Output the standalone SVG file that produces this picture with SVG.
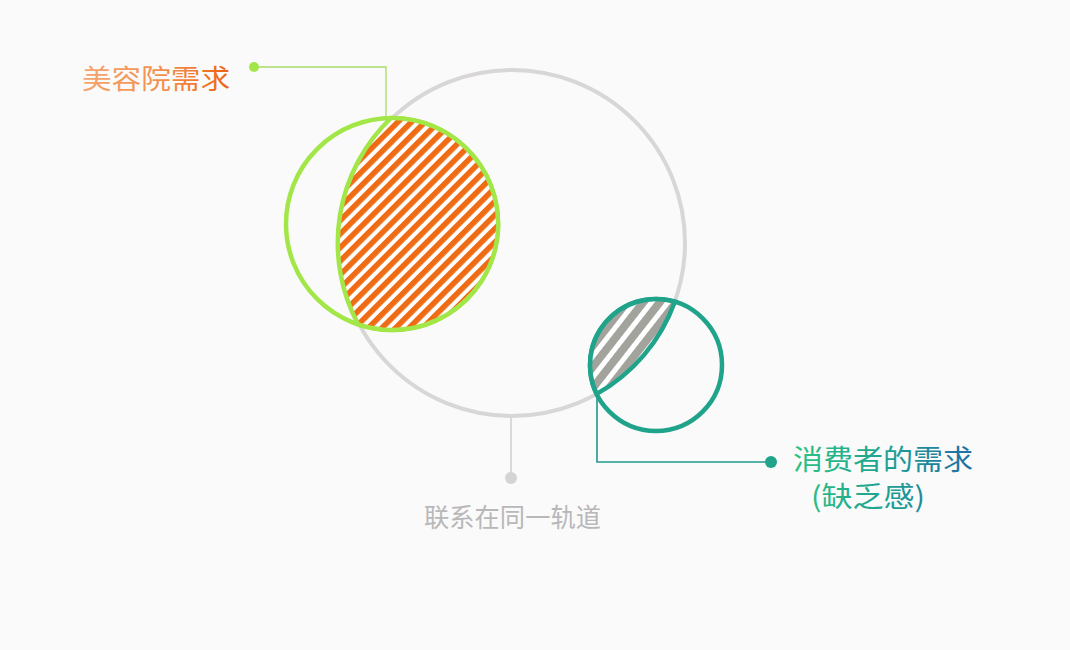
<svg xmlns="http://www.w3.org/2000/svg" width="1070" height="650" viewBox="0 0 1070 650">
<defs>
<pattern id="hatchOrange" patternUnits="userSpaceOnUse" width="9.6" height="9.6" patternTransform="rotate(-45)">
<rect width="9.6" height="9.6" fill="#ffffff"/>
<rect width="9.6" height="5.6" fill="#f06c14"/>
</pattern>
<pattern id="hatchGray" patternUnits="userSpaceOnUse" width="13" height="13" patternTransform="rotate(-52)">
<rect width="13" height="13" fill="#ffffff"/>
<rect width="13" height="8" fill="#a3a39d"/>
</pattern>
<linearGradient id="gOrange" gradientUnits="userSpaceOnUse" x1="82" y1="0" x2="230" y2="0">
<stop offset="0" stop-color="#f5a570"/>
<stop offset="0.6" stop-color="#f38c48"/>
<stop offset="1" stop-color="#ec6212"/>
</linearGradient>
<linearGradient id="gTeal" gradientUnits="userSpaceOnUse" x1="794" y1="0" x2="972" y2="0">
<stop offset="0" stop-color="#2cc283"/>
<stop offset="0.5" stop-color="#1fa392"/>
<stop offset="1" stop-color="#1f6ea6"/>
</linearGradient>
<style>
.lbl{font-family:"Noto Sans CJK SC","Noto Sans",sans-serif;}
.ring{fill:none;}
</style>
</defs>
<rect width="1070" height="650" fill="#fafafa"/>
<g id="connectors" fill="none">
<polyline points="254,67 386,67 386,118" stroke="#a8dc6a" stroke-width="1.3"/>
<polyline points="597,395 597,462 771,462" stroke="#1e9a8a" stroke-width="1.6"/>
<line x1="511" y1="418" x2="511" y2="478" stroke="#d3d1d3" stroke-width="1.6"/>
</g>
<g id="orbit">
<circle class="ring" cx="512" cy="243" r="173" stroke="#d9d6d7" stroke-width="4"/>
<circle cx="511" cy="478" r="6" fill="#d5d3d5"/>
<text class="lbl" x="424" y="527" font-size="26" fill="#b9b7b9" textLength="177" lengthAdjust="spacingAndGlyphs">联系在同一轨道</text>
</g>
<g id="salon">
<circle class="ring" cx="392" cy="224" r="106" stroke="#a2e648" stroke-width="4.5"/>
<path d="M391,118 A106,106 0 1 1 358.2,324.4 A173,173 0 0 1 391,118 Z" fill="url(#hatchOrange)" stroke="#a2e648" stroke-width="4.5"/>
<circle cx="254" cy="67" r="5" fill="#a2e648"/>
<text class="lbl" x="82" y="89" font-size="27" fill="url(#gOrange)" textLength="148" lengthAdjust="spacingAndGlyphs">美容院需求</text>
</g>
<g id="consumer">
<circle class="ring" cx="656" cy="365" r="66" stroke="#1fa38a" stroke-width="4.5"/>
<path d="M674.8,301.7 A66,66 0 0 0 596.7,393.9 A173,173 0 0 0 674.8,301.7 Z" fill="url(#hatchGray)" stroke="#1fa38a" stroke-width="4.5"/>
<circle cx="771" cy="462" r="6" fill="#1fa38a"/>
<text class="lbl" x="793" y="470" font-size="28" fill="url(#gTeal)" textLength="180" lengthAdjust="spacingAndGlyphs">消费者的需求</text>
<text class="lbl" x="811" y="507" font-size="28" fill="url(#gTeal)" textLength="114" lengthAdjust="spacingAndGlyphs">(缺乏感)</text>
</g>
</svg>
